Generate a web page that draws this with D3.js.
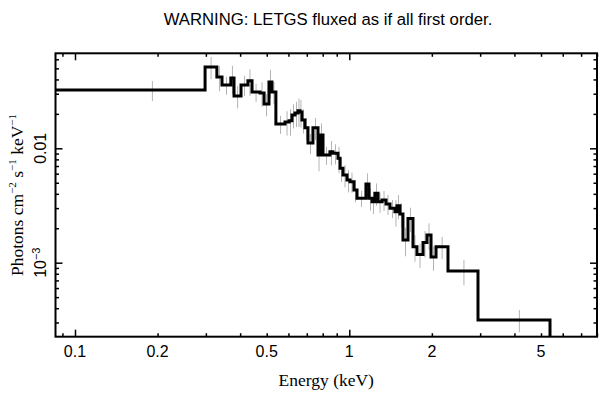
<!DOCTYPE html>
<html>
  <head>
    <title>LETGS fluxed spectrum</title>
    <script src="https://cdn.jsdelivr.net/npm/d3@7"></script>
    <style>
      body { margin: 0; background: #fff; }
      .sans { font-family: "Liberation Sans", Arial, sans-serif; }
      .serif { font-family: "Liberation Serif", "Times New Roman", serif; }
    </style>
  </head>
  <body>
    <div id="main"></div>
    <script>
      var WIDTH = 609, HEIGHT = 399;
      var LEFT = 55.5, RIGHT = 597, TOP = 53.3, BOTTOM = 336.7;

      // bin edges (keV), 58 edges -> 57 bins
      var edges = [0.085, 0.298, 0.329, 0.3435, 0.370, 0.380, 0.403, 0.427, 0.442, 0.4725,
                   0.489, 0.5095, 0.5225, 0.540, 0.583, 0.603, 0.618, 0.634, 0.650, 0.661,
                   0.672, 0.689, 0.707, 0.737, 0.769, 0.782, 0.802, 0.850, 0.872, 0.9095,
                   0.925, 0.9485, 0.981, 1.006, 1.040, 1.067, 1.150, 1.180, 1.210, 1.241,
                   1.273, 1.316, 1.361, 1.407, 1.467, 1.492, 1.530, 1.569, 1.637, 1.707,
                   1.765, 1.857, 1.920, 1.986, 2.071, 2.290, 2.946, 5.392];
      // flux per bin (photons cm^-2 s^-1 keV^-1)
      var flux = [0.0323, 0.0514, 0.0420, 0.0358, 0.0412, 0.0287, 0.0358, 0.0389, 0.0311, 0.0304,
                  0.0244, 0.0380, 0.0311, 0.0163, 0.0170, 0.0174, 0.0196, 0.0204, 0.0213, 0.0208,
                  0.0177, 0.0151, 0.0111, 0.0151, 0.00874, 0.0131, 0.00874, 0.00934, 0.00904, 0.00818,
                  0.00669, 0.00584, 0.00528, 0.00511, 0.00432, 0.00366, 0.00487, 0.00366, 0.00341, 0.00404,
                  0.00341, 0.00353, 0.00326, 0.00299, 0.00279, 0.00315, 0.00267, 0.00158, 0.00244, 0.00138,
                  0.00118, 0.00150, 0.00175, 0.00112, 0.00138, 0.000846, 0.000316];
      // fractional 1-sigma error per bin
      var fracErr = [0.20, 0.22, 0.25, 0.18, 0.28, 0.22, 0.20, 0.26, 0.18, 0.24,
                     0.22, 0.28, 0.22, 0.18, 0.24, 0.26, 0.24, 0.25, 0.28, 0.27,
                     0.24, 0.22, 0.20, 0.22, 0.28, 0.26, 0.18, 0.24, 0.20, 0.26,
                     0.24, 0.22, 0.22, 0.20, 0.22, 0.16, 0.24, 0.22, 0.22, 0.22,
                     0.20, 0.20, 0.20, 0.18, 0.26, 0.24, 0.24, 0.28, 0.24, 0.26,
                     0.24, 0.26, 0.26, 0.24, 0.22, 0.25, 0.22];

      var xMajor = [0.1, 1];
      var xMinor = [0.09, 0.2, 0.3, 0.4, 0.5, 0.6, 0.7, 0.8, 0.9, 2, 3, 4, 5, 6, 7, 8];
      var xLabelVals = [0.1, 0.2, 0.5, 1, 2, 5];
      var xLabels = ["0.1", "0.2", "0.5", "1", "2", "5"];
      var yMajor = [0.001, 0.01];
      var yMinor = [0.0003, 0.0004, 0.0005, 0.0006, 0.0007, 0.0008, 0.0009,
                    0.002, 0.003, 0.004, 0.005, 0.006, 0.007, 0.008, 0.009,
                    0.02, 0.03, 0.04, 0.05, 0.06];

      var svg = d3.select('#main').append('svg')
                  .attr('width', WIDTH).attr('height', HEIGHT);

      var x = d3.scaleLog().domain([0.0849, 8.0]).range([LEFT, RIGHT]);
      var y = d3.scaleLog().domain([2.254e-4, 0.0677]).range([BOTTOM, TOP]);

      svg.append('clipPath').attr('id', 'plot')
        .append('rect').attr('x', LEFT).attr('y', TOP)
        .attr('width', RIGHT - LEFT).attr('height', BOTTOM - TOP);

      var plot = svg.append('g').attr('clip-path', 'url(#plot)');

      // error bars at linear bin centres
      plot.selectAll('.err').data(flux).enter()
        .append('line')
          .attr('class', 'err')
          .attr('x1', function(d, i) { return x((edges[i] + edges[i + 1]) / 2); })
          .attr('x2', function(d, i) { return x((edges[i] + edges[i + 1]) / 2); })
          .attr('y1', function(d, i) { return y(d * (1 + fracErr[i])); })
          .attr('y2', function(d, i) { return y(d * (1 - fracErr[i])); })
          .attr('stroke', '#b4b4b4').attr('stroke-width', 1);

      // step histogram
      var pts = flux.map(function(d, i) { return [edges[i], d]; });
      pts.push([edges[edges.length - 1], flux[flux.length - 1]]);
      pts.push([edges[edges.length - 1], y.domain()[0]]);
      var line = d3.line()
        .x(function(d) { return x(d[0]); })
        .y(function(d) { return y(d[1]); })
        .curve(d3.curveStepAfter);
      plot.append('path').datum(pts)
        .attr('d', line)
        .attr('fill', 'none').attr('stroke', '#000')
        .attr('stroke-width', 3).attr('stroke-linejoin', 'miter');

      // inward ticks on all four sides
      function ticks(axisFn, vals, size, transform) {
        svg.append('g').attr('transform', transform)
          .call(axisFn.tickValues(vals).tickSize(-size).tickFormat(''))
          .call(function(g) { g.select('.domain').remove(); })
          .selectAll('line').attr('stroke-width', 1.5);
      }
      ticks(d3.axisBottom(x), xMajor, 7, 'translate(0,' + BOTTOM + ')');
      ticks(d3.axisBottom(x), xMinor, 3.5, 'translate(0,' + BOTTOM + ')');
      ticks(d3.axisTop(x), xMajor, 7, 'translate(0,' + TOP + ')');
      ticks(d3.axisTop(x), xMinor, 3.5, 'translate(0,' + TOP + ')');
      ticks(d3.axisLeft(y), yMajor, 7, 'translate(' + LEFT + ',0)');
      ticks(d3.axisLeft(y), yMinor, 3.5, 'translate(' + LEFT + ',0)');
      ticks(d3.axisRight(y), yMajor, 7, 'translate(' + RIGHT + ',0)');
      ticks(d3.axisRight(y), yMinor, 3.5, 'translate(' + RIGHT + ',0)');

      svg.append('rect')
        .attr('x', LEFT).attr('y', TOP)
        .attr('width', RIGHT - LEFT).attr('height', BOTTOM - TOP)
        .attr('fill', 'none').attr('stroke', '#000').attr('stroke-width', 2);

      // x tick labels
      svg.selectAll('.xlab').data(xLabelVals).enter()
        .append('text')
          .attr('class', 'xlab sans')
          .attr('x', function(d) { return x(d); })
          .attr('y', BOTTOM + 20)
          .attr('text-anchor', 'middle')
          .attr('font-size', 16)
          .text(function(d, i) { return xLabels[i]; });

      // y tick labels, rotated
      var ylab = svg.selectAll('.ylab').data(yMajor).enter()
        .append('text')
          .attr('class', 'ylab sans')
          .attr('font-size', 16)
          .attr('text-anchor', 'middle')
          .attr('transform', function(d) { return 'translate(' + (LEFT - 10) + ',' + y(d) + ') rotate(-90)'; });
      ylab.filter(function(d) { return d === 0.01; }).text('0.01');
      var exp = ylab.filter(function(d) { return d === 0.001; });
      exp.append('tspan').text('10');
      exp.append('tspan').attr('dy', -6).attr('font-size', 11).text('\u22123');

      // titles
      svg.append('text').attr('class', 'sans')
        .attr('x', 328).attr('y', 25)
        .attr('text-anchor', 'middle').attr('font-size', 16.7)
        .text('WARNING: LETGS fluxed as if all first order.');

      svg.append('text').attr('class', 'serif')
        .attr('x', (LEFT + RIGHT) / 2).attr('y', 386)
        .attr('text-anchor', 'middle').attr('font-size', 17.5)
        .text('Energy (keV)');

      var yt = svg.append('text').attr('class', 'serif')
        .attr('text-anchor', 'middle').attr('font-size', 17.5)
        .attr('transform', 'translate(23,' + ((TOP + BOTTOM) / 2) + ') rotate(-90)');
      yt.append('tspan').text('Photons cm');
      yt.append('tspan').attr('dy', -7).attr('font-size', 11).text('\u22122');
      yt.append('tspan').attr('dy', 7).text(' s');
      yt.append('tspan').attr('dy', -7).attr('font-size', 11).text('\u22121');
      yt.append('tspan').attr('dy', 7).text(' keV');
      yt.append('tspan').attr('dy', -7).attr('font-size', 11).text('\u22121');
    </script>
  </body>
</html>
